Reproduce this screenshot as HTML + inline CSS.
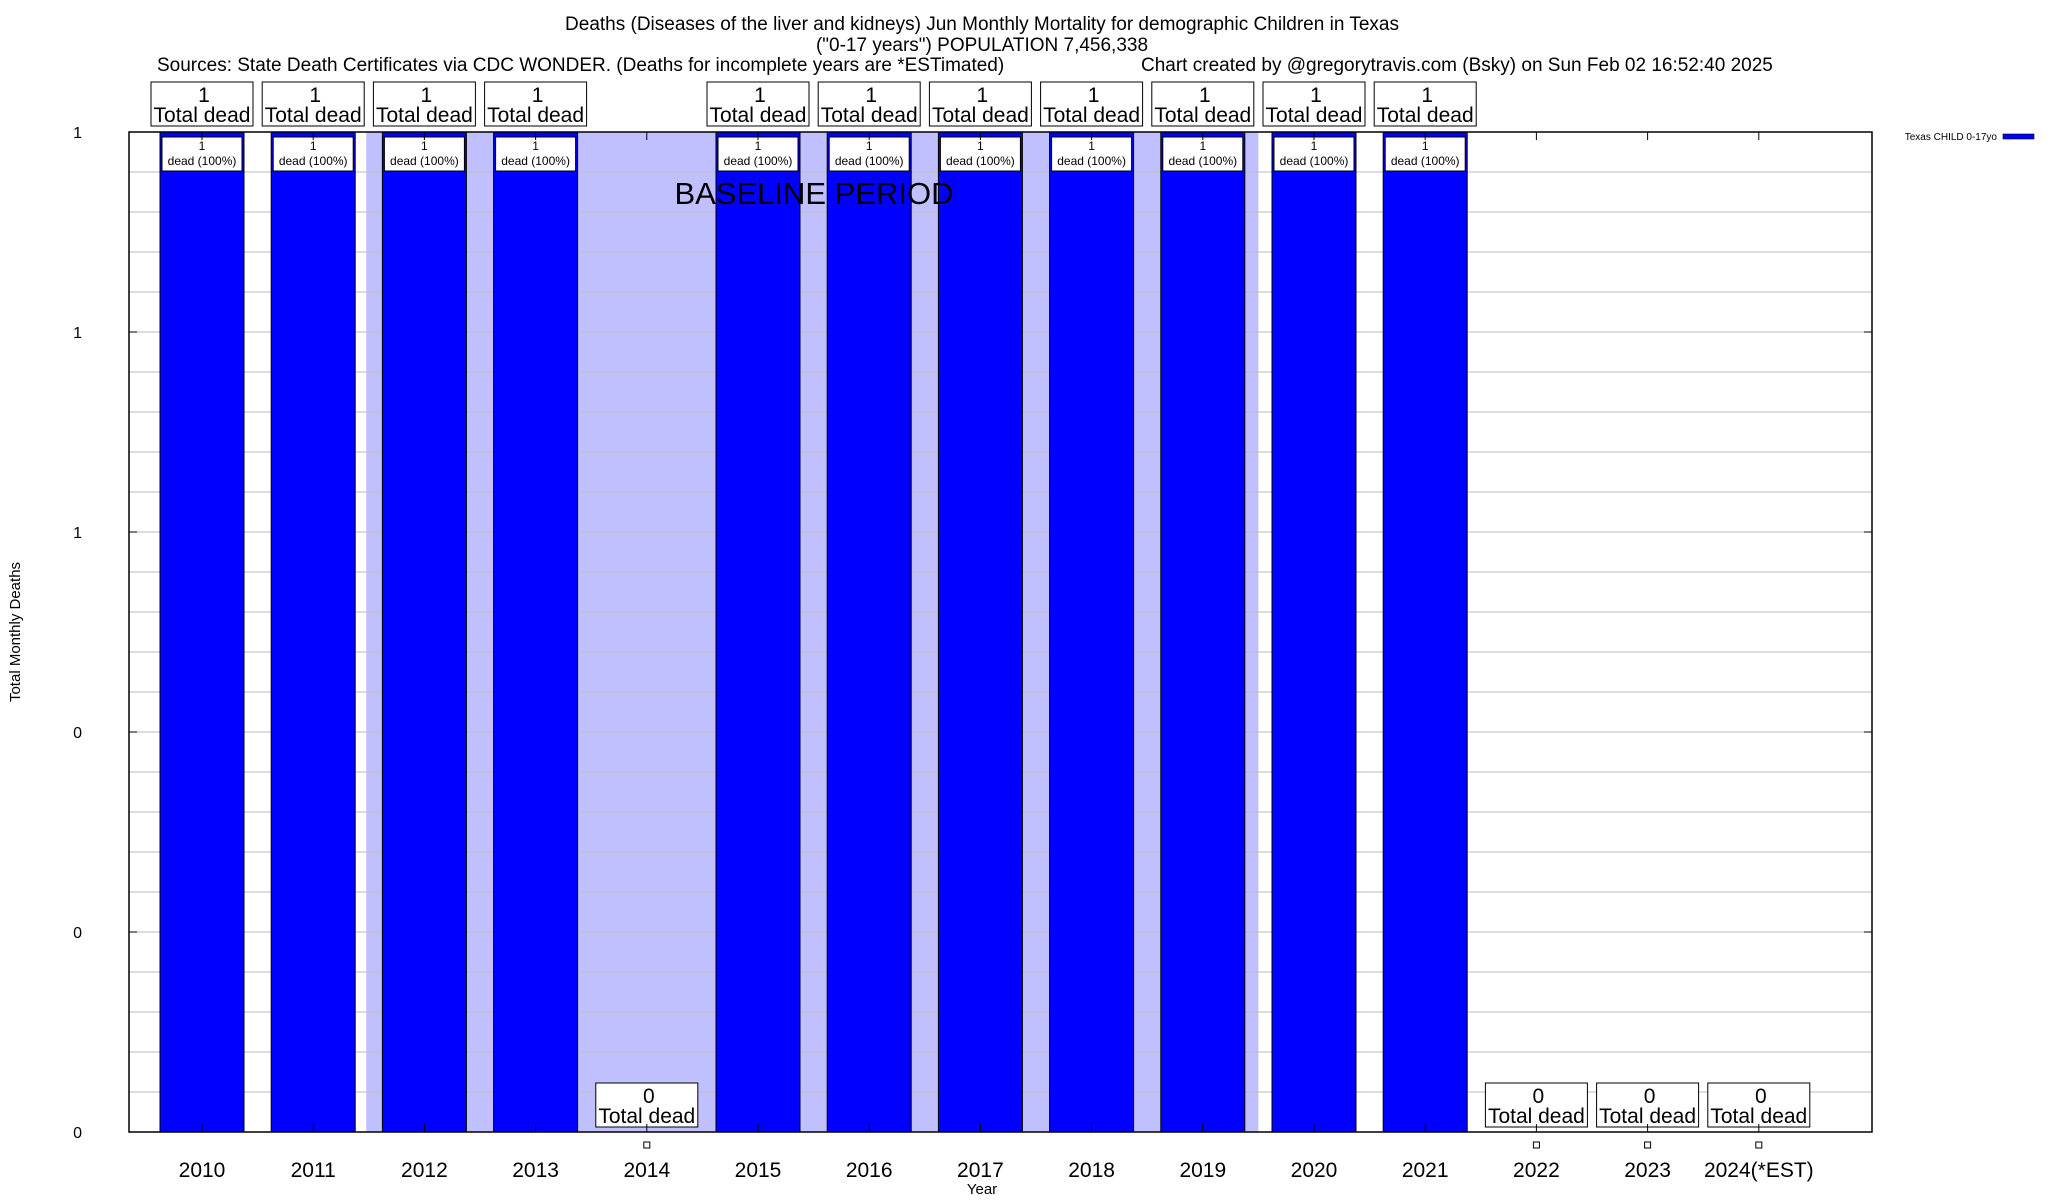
<!DOCTYPE html>
<html><head><meta charset="utf-8">
<style>
html,body{margin:0;padding:0;background:#fff;}
svg{display:block;font-family:"Liberation Sans",Arial,sans-serif;}
</style></head>
<body>
<svg id="chart" width="2048" height="1200" viewBox="0 0 2048 1200" xmlns="http://www.w3.org/2000/svg">
<text x="982" y="30" font-size="19" text-anchor="middle">Deaths (Diseases of the liver and kidneys) Jun Monthly Mortality for demographic Children in Texas</text>
<text x="982" y="51" font-size="19" text-anchor="middle">("0-17 years") POPULATION 7,456,338</text>
<text x="157" y="71" font-size="19">Sources: State Death Certificates via CDC WONDER. (Deaths for incomplete years are *ESTimated)</text>
<text x="1141" y="71" font-size="19">Chart created by @gregorytravis.com (Bsky) on Sun Feb 02 16:52:40 2025</text>
<text transform="translate(20,632) rotate(-90)" font-size="15" text-anchor="middle">Total Monthly Deaths</text>
<text x="982" y="1194" font-size="15" text-anchor="middle">Year</text>
<text x="1997" y="140" font-size="10" text-anchor="end">Texas CHILD 0-17yo</text>
<rect x="2003" y="134" width="31" height="5" fill="#0000ff" stroke="#000" stroke-width="0.6"/>
<g id="plot"></g>
</svg>
<script>
const years = ["2010","2011","2012","2013","2014","2015","2016","2017","2018","2019","2020","2021","2022","2023","2024(*EST)"];
const deaths = [1,1,1,1,0,1,1,1,1,1,1,1,0,0,0];
const yTickValues = [0,0.2,0.4,0.6,0.8,1];
const yTickLabels = ["0","0","0","1","1","1"];
const baselineStart = 1.5;
const baselineEnd = 9.5;

const L=129,R=1872,T=132,B=1132;
const yMax=1;
const x0=202, step=111.2, barW=84;
function xPos(i){return x0+step*i;}
function yPos(v){return B-(v/yMax)*(B-T);}
const NS="http://www.w3.org/2000/svg";
const g=document.getElementById('plot');
function mk(tag,attrs,parent){const e=document.createElementNS(NS,tag);for(const k in attrs)e.setAttribute(k,attrs[k]);(parent||g).appendChild(e);return e;}

const bx1=xPos(baselineStart-0.5)+barW/2+11;
const bx2=xPos(baselineEnd)-0.5*(step-barW)/2+ (step-barW)/4;
const shade=mk('rect',{x:bx1,y:T,width:bx2-bx1,height:B-T,fill:'#c0c0ff'});



for(let k=1;k<25;k++){
  const v=k*0.04, y=yPos(v);
  const gl=mk('line',{x1:L,x2:R,y1:y,y2:y,stroke:'#bbb','stroke-width':1});
  
  
}

yTickValues.forEach((v,i)=>{
  const y=yPos(v);
  const t=mk('text',{x:82,y:y+6,'font-size':16,'text-anchor':'end'});
  t.textContent=yTickLabels[i];
  
  
  mk('line',{x1:L,x2:L+8,y1:y,y2:y,stroke:'#000'});
  mk('line',{x1:R-8,x2:R,y1:y,y2:y,stroke:'#000'});
});

years.forEach((yr,i)=>{
  const cx=xPos(i), v=deaths[i];
  if(v>0){
    const b=mk('rect',{x:cx-barW/2,y:yPos(v),width:barW,height:B-yPos(v),fill:'#0000ff',stroke:'#000','stroke-width':1});
    
    
    const ib=mk('rect',{x:cx-40,y:yPos(v)+5,width:80,height:34,fill:'#fff',stroke:'#000','stroke-width':1});
    
    
    const it1=mk('text',{x:cx,y:yPos(v)+18,'font-size':12,'text-anchor':'middle'});
    it1.textContent=String(v);
    
    
    const it2=mk('text',{x:cx,y:yPos(v)+33,'font-size':12,'text-anchor':'middle'});
    it2.textContent='dead (100%)';
    
    
  } else {
    const m=mk('rect',{x:cx-3,y:1142,width:6,height:6,fill:'#fff',stroke:'#000','stroke-width':1});
    
    
  }
  const by = v>0 ? yPos(v)-50 : yPos(v)-49;
  const lb=mk('rect',{x:cx-51,y:by,width:102,height:44,fill:'#fff',stroke:'#000','stroke-width':1});
  
  
  const l1=mk('text',{x:cx+2,y:by+20,'font-size':21,'text-anchor':'middle'});
  l1.textContent=String(v);
  
  
  const l2=mk('text',{x:cx,y:by+40,'font-size':21,'text-anchor':'middle'});
  l2.textContent='Total dead';
  
  
  mk('line',{x1:cx,x2:cx,y1:B,y2:B-8,stroke:'#000'});
  mk('line',{x1:cx,x2:cx,y1:T,y2:T+8,stroke:'#000'});
  const xl=mk('text',{x:cx,y:1177,'font-size':21,'text-anchor':'middle'});
  xl.textContent=yr;
  
  
});

const bt=mk('text',{x:814,y:204,'font-size':31,'text-anchor':'middle'});
bt.textContent='BASELINE PERIOD';



const frame=mk('rect',{x:L,y:T,width:R-L,height:B-T,fill:'none',stroke:'#000','stroke-width':1.5});


</script>
</body></html>
